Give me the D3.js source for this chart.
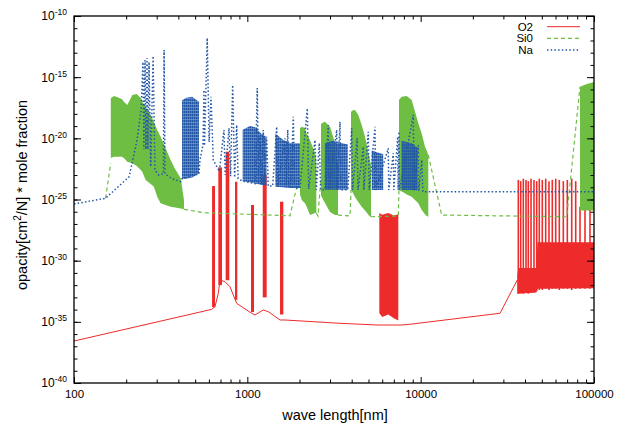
<!DOCTYPE html>
<html>
<head>
<meta charset="utf-8">
<script src="https://cdn.jsdelivr.net/npm/d3@7"></script>
<style>
    html, body { margin: 0; padding: 0; background: #fff; }
    svg { display: block; font-family: "Liberation Sans", Arial, Helvetica, sans-serif; }
</style>
</head>
<body>
<svg id="chart" width="622" height="428"></svg>
<script>
// ——— Data (wavelength in nm, opacity as log10 exponent) ———
// O2: continuum, narrow line groups [l0, l1, lo, hi], dense bands [l, lo, hi], band lines [l, lo, hi]
const o2Line = [
    [100, -36.57], [623, -33.98], [651, -33.76], [680, -32.67], [696, -31.58],
    [743, -31.72], [794, -32.13], [868, -33.49], [1060, -34.30], [1107, -34.44],
    [1236, -34.03], [1321, -34.17], [1544, -34.85], [1649, -34.85], [3425, -35.12],
    [5577, -35.26], [7774, -35.26], [8680, -35.20], [28700, -34.30], [36100, -31.58]
];
const o2Spikes = [
    [626, 651, -33.8, -23.90],
    [680, 714, -32.0, -22.37],
    [750, 787, -31.6, -21.09],
    [849, 875, -33.2, -23.55],
    [1050, 1093, -34.2, -25.45],
    [1227, 1293, -33.0, -23.00],
    [1544, 1613, -34.4, -25.18]
];
const o2Bands = [
    [[5773, -34.3, -26.1], [6000, -34.6, -26.25], [6500, -34.4, -26.1], [7000, -34.7, -26.3], [7430, -34.9, -26.2]],
    [[36100, -32.7, -31.2], [36600, -32.7, -30.6], [46500, -32.6, -30.6], [47200, -32.3, -28.5], [100000, -32.25, -28.5]]
];
const o2BandLines = [
    [36590, -32.7, -23.4], [37770, -32.6, -23.5], [39100, -32.7, -23.3], [40530, -32.6, -23.4],
    [41790, -32.7, -23.5], [43310, -32.6, -23.3], [45070, -32.6, -23.4], [46710, -32.5, -23.5],
    [48350, -32.4, -23.3], [50320, -32.4, -23.4], [52640, -32.3, -23.3], [55000, -32.4, -23.5],
    [57460, -32.3, -23.4], [60120, -32.3, -23.3], [63070, -32.4, -23.4], [66530, -32.3, -23.5],
    [70150, -32.3, -23.4], [74360, -32.4, -23.3], [78420, -32.3, -23.5], [83040, -32.3, -25.6],
    [88740, -32.3, -25.6], [94820, -32.3, -25.6]
];

// SiO: continuum (null = gap under a band) and dense bands [l, lo, hi]
const sioLine = [
    [152, -24.90], [163, -22.02], [163, null],
    [431, -25.80], [562, -26.08], [1763, -26.33], [1909, -24.22], [2013, -23.2], [2013, null],
    [2500, -26.1], [2557, -26.35], [2626, -24.22], [2660, -23.5], [2660, null],
    [3335, -26.27], [3911, -26.35], [3964, -24.22], [3964, null],
    [5170, -26.41], [7430, -26.35], [7499, -24.22], [7499, null],
    [11066, -21.36], [13223, -26.27], [69590, -26.41], [83040, -15.78], [83040, null]
];
const sioBands = [
    [[163, -21.61, -16.73], [170, -21.50, -16.54], [189, -21.50, -16.78], [194, -21.61, -17.01],
     [203, -21.91, -17.28], [217, -22.04, -16.46], [230, -22.26, -16.38], [243, -22.59, -16.70],
     [248, -22.75, -17.01], [259, -23.41, -17.44], [277, -23.73, -18.09], [289, -23.95, -18.66],
     [302, -24.77, -19.32], [316, -25.31, -19.87], [337, -25.45, -20.79], [361, -25.59, -21.77],
     [383, -25.65, -22.5], [413, -25.74, -23.27], [431, -25.80, -25.04]],
    [[2013, -24.6, -19.18], [2060, -25.04, -19.05], [2151, -25.3, -19.16], [2200, -25.59, -19.6],
     [2299, -26.27, -20.14], [2457, -26.10, -21.20], [2500, -26.1, -21.77]],
    [[2660, -24.63, -18.9], [2686, -24.8, -18.77], [2806, -25.29, -18.64], [2999, -26.02, -19.05],
     [3205, -26.27, -20.38], [3335, -26.27, -22.32]],
    [[3964, -24.22, -17.82], [4070, -24.47, -17.7], [4180, -24.8, -17.68], [4368, -25.2, -18.09],
     [4569, -25.59, -18.9], [4774, -25.9, -19.87], [5101, -26.41, -21.77], [5170, -26.41, -22.18]],
    [[7499, -24.22, -16.87], [7774, -24.35, -16.60], [8121, -24.49, -16.55], [8307, -24.6, -16.54],
     [8878, -24.77, -16.87], [9690, -25.3, -18.77], [10139, -25.86, -19.6], [10593, -26.2, -20.68],
     [10835, -26.35, -21.0], [11066, -26.41, -21.36]],
    [[83040, -25.9, -15.78], [90760, -25.9, -15.56], [100000, -25.9, -15.40]]
];

// Na: spectrum line and dense line groups [l, lo, hi]
const naLine = [
    [100, -25.37], [152, -24.90], [208, -23.14], [231, -20.14], [244, -17.68],
    [250, -13.76], [253, -20.9], [257, -13.6], [260, -20.9], [264, -13.43], [267, -20.9],
    [271, -13.76], [277, -22.32], [286, -13.27], [293, -22.6], [309, -23.0], [328, -22.9],
    [331, -12.78], [335, -22.9], [368, -23.3], [413, -23.55], [420, -23.3], [526, -22.9],
    [533, -21.77], [555, -20.5], [562, -16.05], [566, -20.6], [587, -11.80], [602, -20.3],
    [617, -16.60], [636, -21.77], [690, -22.7], [733, -19.32], [745, -23.0], [784, -19.16],
    [800, -23.1], [823, -15.64], [845, -23.2], [868, -18.91], [885, -23.3], [940, -23.5],
    [1110, -23.7], [1141, -15.89], [1160, -23.7], [1183, -19.87], [1210, -23.8], [1236, -19.32],
    [1260, -23.8], [1293, -19.87], [1320, -23.9], [1400, -23.9], [1477, -19.05], [1500, -23.95],
    [1649, -20.0], [1680, -24.0], [1710, -19.3], [1740, -24.0], [1780, -24.05], [1842, -18.23],
    [1870, -24.05], [2013, -24.06], [2218, -17.55], [2260, -24.15], [2457, -20.14], [2500, -24.2],
    [2602, -20.38], [2650, -24.2], [2800, -24.2], [2932, -18.91], [2960, -24.2], [3278, -19.32],
    [3300, -24.2], [3425, -18.64], [3460, -24.2], [3800, -24.2], [4000, -19.18], [4050, -24.22],
    [4300, -20.0], [4350, -24.22], [4668, -20.68], [4700, -24.22], [4987, -19.46], [5050, -24.22],
    [5452, -19.05], [5500, -24.22], [6500, -20.82], [6550, -24.22], [6952, -21.22], [7000, -24.22],
    [7371, -19.87], [7420, -24.22], [7499, -19.46], [7550, -24.22], [9068, -18.09], [9150, -24.3],
    [9690, -20.55], [9750, -24.3], [10139, -21.77], [10300, -24.36], [100000, -24.36]
];
const naBands = [
    [[420, -23.3, -16.9], [440, -23.3, -16.7], [480, -23.2, -16.6], [526, -22.9, -17.0]],
    [[940, -23.5, -19.3], [1036, -23.6, -19.0], [1110, -23.7, -19.1], [1200, -23.8, -19.6], [1290, -23.85, -19.9]],
    [[1450, -23.95, -19.6], [1600, -24.0, -20.1], [1780, -24.05, -20.4], [2013, -24.06, -20.4]],
    [[2800, -24.2, -20.4], [3100, -24.2, -20.2], [3800, -24.2, -20.5]],
    [[5218, -24.22, -21.0], [6080, -24.22, -21.3]],
    [[7750, -24.22, -20.2], [8900, -24.22, -20.4], [9600, -24.25, -20.8]]
];

// Axes and legend
const xMajor = [100, 1000, 10000, 100000];
const yMajorExp = [-40, -35, -30, -25, -20, -15, -10];
const legend = [
    { name: 'O2', color: '#ee2b2b', dash: null, width: 1 },
    { name: 'Si0', color: '#6fbe44', dash: '4,3', width: 1.2 },
    { name: 'Na', color: '#2256a6', dash: '1.5,2.2', width: 1.5 }
];

(() => {
    const M = { left: 74, right: 594, top: 16, bottom: 383 };
    const RED = legend[0].color, GREEN = legend[1].color, BLUE = legend[2].color;
    const P = e => Math.pow(10, e);

    const svg = d3.select('#chart');

    const x = d3.scaleLog().domain([100, 1e5]).range([M.left, M.right]);
    const y = d3.scaleLog().domain([1e-40, 1e-10]).range([M.bottom, M.top]);

    const line = d3.line()
        .defined(d => d[1] !== null)
        .x(d => x(d[0])).y(d => y(P(d[1])));
    const area = d3.area()
        .x(d => x(d[0]))
        .y0(d => y(P(d[1]))).y1(d => y(P(d[2])));

    // ——— Defs ———
    const defs = svg.append('defs');
    defs.append('clipPath').attr('id', 'plotClip')
        .append('rect')
        .attr('x', M.left).attr('y', M.top)
        .attr('width', M.right - M.left).attr('height', M.bottom - M.top);
    const pat = defs.append('pattern').attr('id', 'naFill')
        .attr('patternUnits', 'userSpaceOnUse')
        .attr('width', 2).attr('height', 3);
    pat.append('rect').attr('width', 2).attr('height', 3).attr('fill', BLUE).attr('opacity', 0.55);
    pat.append('rect').attr('width', 1.6).attr('height', 2.4).attr('fill', BLUE);

    const plot = svg.append('g').attr('clip-path', 'url(#plotClip)');

    // ——— O2 ———
    plot.append('path')
        .attr('d', line(o2Line))
        .attr('fill', 'none').attr('stroke', RED).attr('stroke-width', 1);
    plot.append('g').selectAll('rect')
        .data(o2Spikes).join('rect')
        .attr('x', d => x(d[0]))
        .attr('width', d => x(d[1]) - x(d[0]))
        .attr('y', d => y(P(d[3])))
        .attr('height', d => y(P(d[2])) - y(P(d[3])))
        .attr('fill', RED);
    plot.append('g').selectAll('path')
        .data(o2Bands).join('path')
        .attr('d', d => area(d))
        .attr('fill', RED);
    plot.append('g').selectAll('line')
        .data(o2BandLines).join('line')
        .attr('x1', d => x(d[0])).attr('x2', d => x(d[0]))
        .attr('y1', d => y(P(d[1]))).attr('y2', d => y(P(d[2])))
        .attr('stroke', RED).attr('stroke-width', 1.6);

    // ——— SiO ———
    plot.append('g').selectAll('path')
        .data(sioBands).join('path')
        .attr('d', d => area(d))
        .attr('fill', GREEN);
    plot.append('path')
        .attr('d', line(sioLine))
        .attr('fill', 'none').attr('stroke', GREEN)
        .attr('stroke-width', 1.2).attr('stroke-dasharray', legend[1].dash);

    // ——— Na ———
    plot.append('g').selectAll('path')
        .data(naBands).join('path')
        .attr('d', d => area(d))
        .attr('fill', 'url(#naFill)');
    plot.append('path')
        .attr('d', line(naLine))
        .attr('fill', 'none').attr('stroke', BLUE)
        .attr('stroke-width', 1.5).attr('stroke-dasharray', legend[2].dash);

    // ——— Axes ———
    const xMinor = [];
    xMajor.slice(0, -1).forEach(v => { for (let k = 2; k <= 9; k++) xMinor.push(v * k); });
    const yMinor = d3.range(-40, -9).map(P);
    const yMajor = yMajorExp.map(P);

    const axisStyle = g => {
        g.select('.domain').remove();
        g.selectAll('.tick line').attr('stroke', '#000').attr('stroke-width', 1);
        g.selectAll('.tick text').attr('fill', '#000');
    };

    // bottom / top
    svg.append('g').attr('transform', `translate(0,${M.bottom})`)
        .call(d3.axisBottom(x).tickValues(xMinor).tickFormat('').tickSize(-3.5))
        .call(axisStyle);
    svg.append('g').attr('transform', `translate(0,${M.bottom})`)
        .call(d3.axisBottom(x).tickValues(xMajor).tickFormat(d3.format('d')).tickSize(-6).tickPadding(7))
        .call(axisStyle)
        .call(g => g.selectAll('.tick text').style('font-size', '11.5px'));
    svg.append('g').attr('transform', `translate(0,${M.top})`)
        .call(d3.axisTop(x).tickValues(xMinor).tickFormat('').tickSize(-3.5))
        .call(axisStyle);
    svg.append('g').attr('transform', `translate(0,${M.top})`)
        .call(d3.axisTop(x).tickValues(xMajor).tickFormat('').tickSize(-6))
        .call(axisStyle);

    // left / right
    svg.append('g').attr('transform', `translate(${M.left},0)`)
        .call(d3.axisLeft(y).tickValues(yMinor).tickFormat('').tickSize(-3.5))
        .call(axisStyle);
    const yAx = svg.append('g').attr('transform', `translate(${M.left},0)`)
        .call(d3.axisLeft(y).tickValues(yMajor).tickFormat('').tickSize(-7).tickPadding(7))
        .call(axisStyle);
    yAx.selectAll('.tick text')
        .style('font-size', '12px')
        .each(function (d) {
            const t = d3.select(this);
            t.append('tspan').text('10');
            t.append('tspan').attr('dy', '-5').style('font-size', '8.5px')
                .text(String(Math.round(Math.log10(d))));
        });
    svg.append('g').attr('transform', `translate(${M.right},0)`)
        .call(d3.axisRight(y).tickValues(yMinor).tickFormat('').tickSize(-3.5))
        .call(axisStyle);
    svg.append('g').attr('transform', `translate(${M.right},0)`)
        .call(d3.axisRight(y).tickValues(yMajor).tickFormat('').tickSize(-7))
        .call(axisStyle);

    // border
    svg.append('rect')
        .attr('x', M.left).attr('y', M.top)
        .attr('width', M.right - M.left).attr('height', M.bottom - M.top)
        .attr('fill', 'none').attr('stroke', '#000').attr('stroke-width', 1.3);

    // ——— Axis titles ———
    svg.append('text')
        .attr('x', 335).attr('y', 420)
        .attr('text-anchor', 'middle')
        .style('font-size', '14.5px')
        .text('wave length[nm]');

    const yt = svg.append('text')
        .attr('transform', 'translate(27,195) rotate(-90)')
        .attr('text-anchor', 'middle')
        .style('font-size', '14.5px');
    yt.append('tspan').text('opacity[cm');
    yt.append('tspan').attr('dy', '-6').style('font-size', '10px').text('2');
    yt.append('tspan').attr('dy', '6').text('/N] * mole fraction');

    // ——— Legend ———
    const lg = svg.append('g').selectAll('g')
        .data(legend).join('g')
        .attr('transform', (d, i) => `translate(0,${26.7 + i * 11.7})`);
    lg.append('text')
        .attr('x', 533).attr('y', 4)
        .attr('text-anchor', 'end')
        .style('font-size', '11.5px')
        .text(d => d.name);
    lg.append('line')
        .attr('x1', 547).attr('x2', 580)
        .attr('stroke', d => d.color)
        .attr('stroke-width', d => d.width)
        .attr('stroke-dasharray', d => d.dash);
})();
</script>
</body>
</html>
